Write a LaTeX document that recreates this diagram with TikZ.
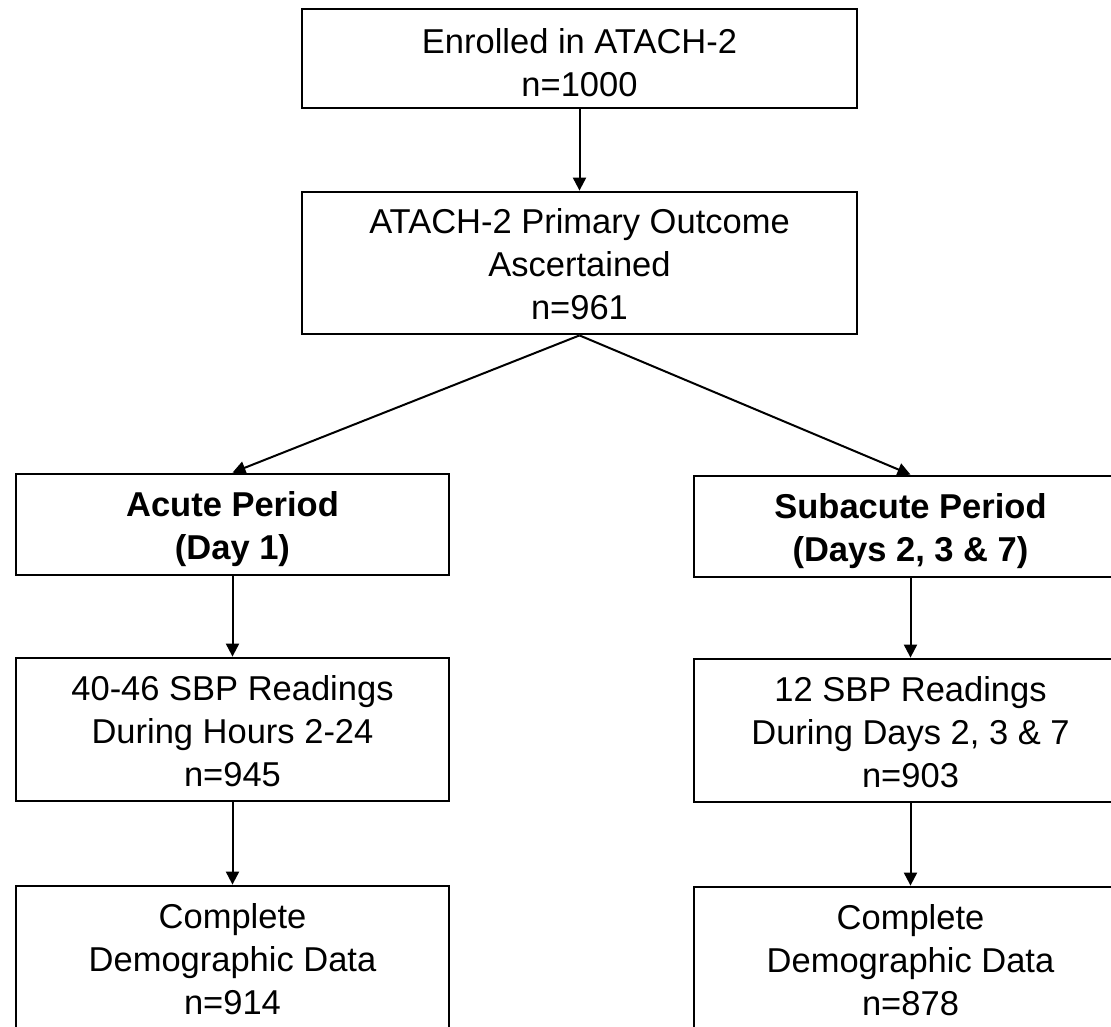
\documentclass[tikz,border=0pt]{standalone}
\usepackage{fontspec}
\setmainfont{Liberation Sans}
\usetikzlibrary{arrows.meta}
\newcommand\twoLineStrut{\rule{0pt}{34pt}}
\newcommand\threeLineStrut{\rule{0pt}{28pt}}
\begin{document}
\begin{tikzpicture}[x=1pt,y=-1pt,
  box/.style={draw=black, line width=2.8pt, align=center, inner sep=0pt,
    font=\fontsize{34.5}{43}\selectfont, text=black},
  boldbox/.style={box, font=\fontsize{34.5}{43}\selectfont\bfseries},
  wide/.style={minimum width=555pt},
  narrow/.style={minimum width=433pt},
  conn/.style={draw=black, line width=2pt, -{Triangle[width=13pt,length=13pt]}}]
\useasboundingbox (0,0) rectangle (1111,1026);
\fill[white] (0,0) rectangle (1111,1026);
\clip (0,0) rectangle (1111,1026);
\node[box, wide, minimum height=99pt] (b1) at (579.5,58.5) {\twoLineStrut Enrolled in ATACH-2\\n=1000};
\node[box, wide, minimum height=142pt] (b2) at (579.5,263) {\threeLineStrut ATACH-2 Primary Outcome\\Ascertained\\n=961};
\node[boldbox, narrow, minimum height=101pt] (b3) at (232.5,524.5) {\twoLineStrut Acute Period\\(Day 1)};
\node[boldbox, narrow, minimum height=101pt] (b4) at (910.5,526.5) {\twoLineStrut Subacute Period\\(Days 2, 3 \& 7)};
\node[box, narrow, minimum height=143pt] (b5) at (232.5,729.5) {\threeLineStrut 40-46 SBP Readings\\During Hours 2-24\\n=945};
\node[box, narrow, minimum height=143pt] (b6) at (910.5,730.5) {\threeLineStrut 12 SBP Readings\\During Days 2, 3 \& 7\\n=903};
\node[box, narrow, minimum height=143pt] (b7) at (232.5,957.5) {\threeLineStrut Complete\\Demographic Data\\n=914};
\node[box, narrow, minimum height=143pt] (b8) at (910.5,958.5) {\threeLineStrut Complete\\Demographic Data\\n=878};
\draw[conn] (b1.south) -- (b2.north);
\draw[conn] (b2.south) -- (b3.north);
\draw[conn] (b2.south) -- (b4.north);
\draw[conn] (b3.south) -- (b5.north);
\draw[conn] (b4.south) -- (b6.north);
\draw[conn] (b5.south) -- (b7.north);
\draw[conn] (b6.south) -- (b8.north);
\end{tikzpicture}
\end{document}
